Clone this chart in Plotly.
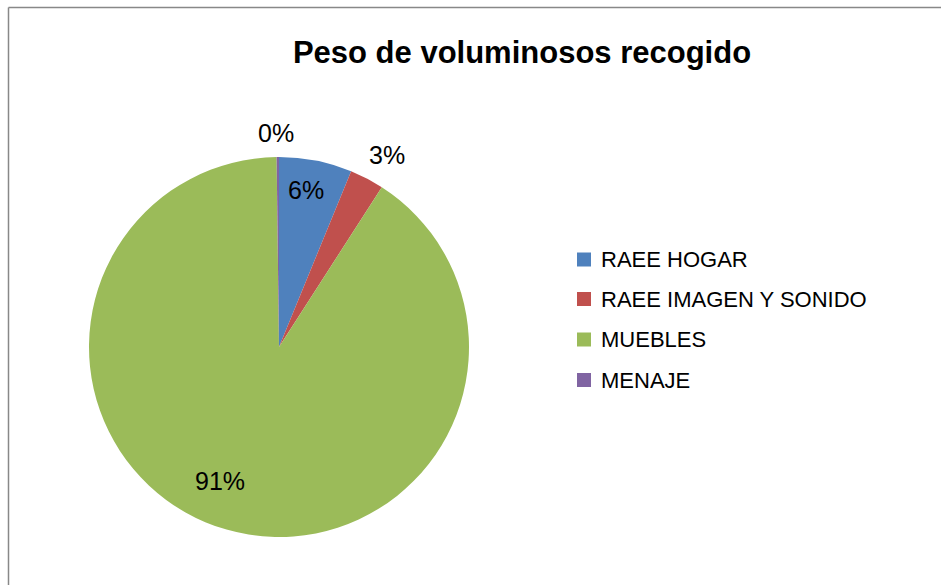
import math
import plotly.graph_objects as go

# Collected bulky-waste weight, share by category
categories = ["RAEE HOGAR", "RAEE IMAGEN Y SONIDO", "MUEBLES", "MENAJE"]
weights = [6.2, 2.9, 90.7, 0.2]
colors = ["#4F81BD", "#C0504D", "#9BBB59", "#8064A2"]
title_text = "Peso de voluminosos recogido"

W, H = 941, 585
CX, CY, R = 279, 347, 190          # pie centre and radius in pixels
FONT = "Liberation Sans, Arial, sans-serif"

# label placement per slice: (angle offset from slice middle in degrees, radius fraction)
label_place = [(-1.4, 0.838), (1.7, 1.16), (7.9, 0.772), (-0.4, 1.125)]


def px(x):
    return x / W


def py(y):
    return 1 - y / H


fig = go.Figure(
    go.Pie(
        labels=categories,
        values=weights,
        marker=dict(colors=colors, line=dict(width=0)),
        sort=False,
        direction="clockwise",
        rotation=0,
        textinfo="none",
        hoverinfo="label+percent",
        showlegend=False,
        domain=dict(x=[px(CX - R), px(CX + R)], y=[py(CY + R), py(CY - R)]),
    )
)

annotations = []
shapes = []

# percentage labels around / inside the slices
total = sum(weights)
cum = 0.0
for v, (off, rf) in zip(weights, label_place):
    mid = (cum + v / 2) / total * 360 + off
    cum += v
    a = math.radians(mid)
    lx = CX + rf * R * math.sin(a)
    ly = CY - rf * R * math.cos(a)
    annotations.append(dict(
        x=px(lx), y=py(ly), xref="paper", yref="paper",
        text=f"{round(v / total * 100):.0f}%", showarrow=False,
        xanchor="center", yanchor="middle",
        font=dict(family=FONT, size=25, color="#000000"),
    ))

# legend drawn as colour squares with text beside them
legend_rows = [259.5, 299, 339.5, 380]
for name, col, ry in zip(categories, colors, legend_rows):
    shapes.append(dict(
        type="rect", xref="paper", yref="paper",
        x0=px(577), x1=px(591), y0=py(ry + 7), y1=py(ry - 7),
        fillcolor=col, line=dict(width=0),
    ))
    annotations.append(dict(
        x=px(599), y=py(ry), xref="paper", yref="paper",
        text=name, showarrow=False, xanchor="left", yanchor="middle",
        font=dict(family=FONT, size=22, color="#000000"),
    ))

# chart area border (left and top edges)
border = "#888888"
shapes.append(dict(type="line", xref="paper", yref="paper",
                   x0=px(8.5), x1=px(8.5), y0=py(7.5), y1=-0.1,
                   line=dict(color=border, width=1.5)))
shapes.append(dict(type="line", xref="paper", yref="paper",
                   x0=px(8.5), x1=1.1, y0=py(7.5), y1=py(7.5),
                   line=dict(color=border, width=1.5)))

fig.update_layout(
    width=W, height=H,
    margin=dict(l=0, r=0, t=0, b=0),
    paper_bgcolor="#FFFFFF",
    plot_bgcolor="#FFFFFF",
    title=dict(
        text=f"<b>{title_text}</b>",
        x=px(522), xanchor="center", xref="paper",
        y=py(52), yanchor="middle", yref="container",
        font=dict(family=FONT, size=31, color="#000000"),
    ),
    annotations=annotations,
    shapes=shapes,
    showlegend=False,
)

fig.write_html("out.html")
